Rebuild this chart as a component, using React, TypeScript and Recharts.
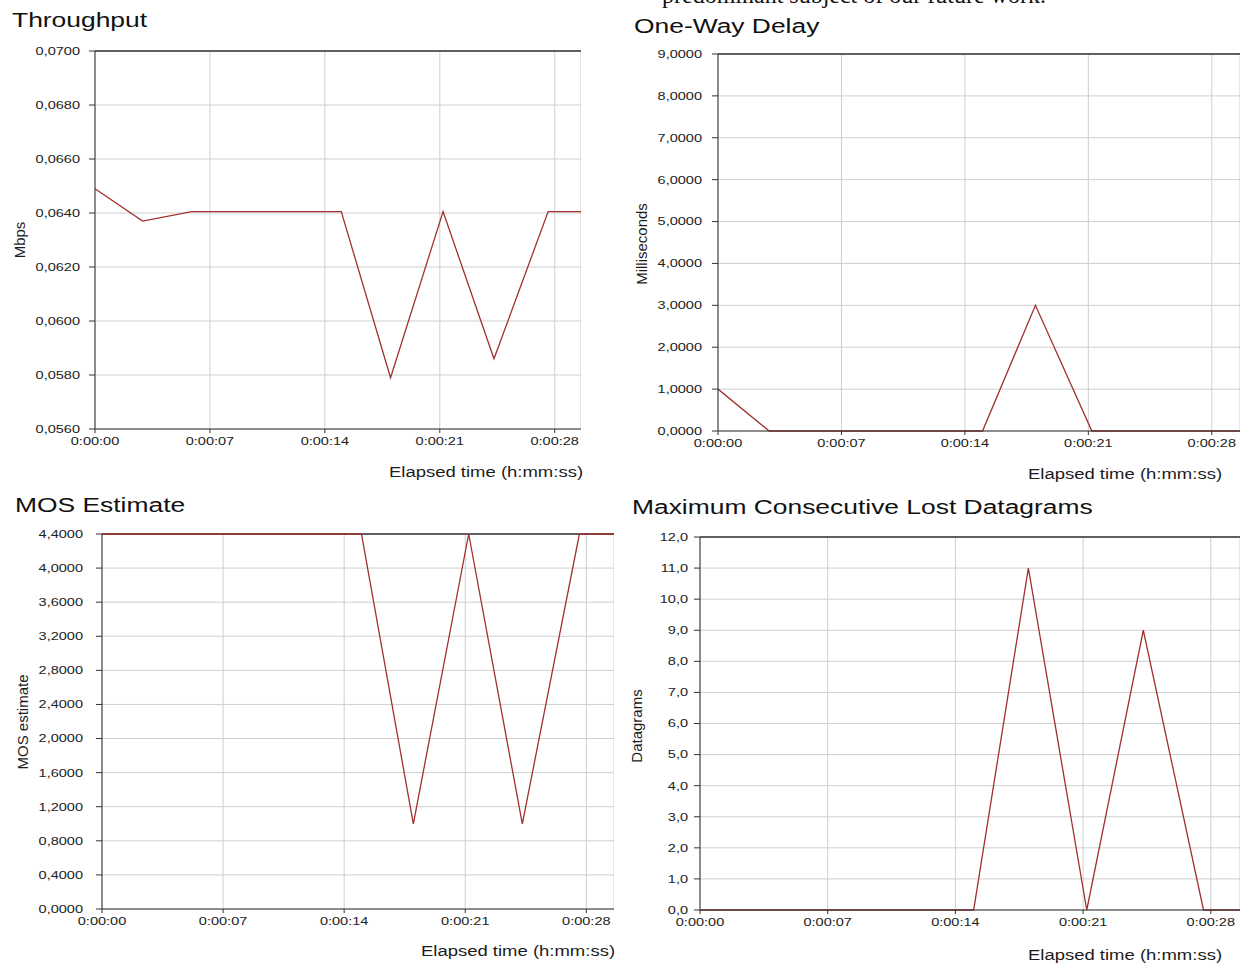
import React from "react";
import { LineChart, Line, XAxis, YAxis, CartesianGrid, ReferenceLine } from "recharts";

const FONT = '"Liberation Sans", Arial, sans-serif';
const STRETCH = 1.32;
const LINE = "#a0312f";
const GRID = "#cfcfcf";
const AXIS = "#333333";

// sample times (seconds)
const time = [0, 2.9, 5.9, 9, 12, 15, 18, 21.2, 24.3, 27.6, 30.6];
const timeTicks = [0, 7, 14, 21, 28];

const throughput = [0.0649, 0.0637, 0.06405, 0.06405, 0.06405, 0.06405, 0.0579, 0.06405, 0.0586, 0.06405, 0.06405];
const throughputTicks = [0.056, 0.058, 0.06, 0.062, 0.064, 0.066, 0.068, 0.07];

const delay = [1.0, 0, 0, 0, 0, 0, 3.0, 0, 0, 0, 0];
const delayTicks = [0, 1, 2, 3, 4, 5, 6, 7, 8, 9];

const mos = [4.4, 4.4, 4.4, 4.4, 4.4, 4.4, 1.0, 4.4, 1.0, 4.4, 4.4];
const mosTicks = [0, 0.4, 0.8, 1.2, 1.6, 2.0, 2.4, 2.8, 3.2, 3.6, 4.0, 4.4];

const lost = [0, 0, 0, 0, 0, 0, 11, 0, 9, 0, 0];
const lostTicks = [0, 1, 2, 3, 4, 5, 6, 7, 8, 9, 10, 11, 12];

const fmt4 = (v: number) => v.toFixed(4).replace(".", ",");
const fmt1 = (v: number) => v.toFixed(1).replace(".", ",");
const fmtTime = (t: number) => `0:00:${String(t).padStart(2, "0")}`;

function YTick(props: any) {
  const { x, y, payload, format } = props;
  return (
    <g transform={`translate(${x},${y})`}>
      <text
        transform={`scale(${STRETCH},1)`}
        textAnchor="end"
        dy="0.355em"
        fontSize={11}
        fill="#222"
        fontFamily={FONT}
      >
        {format(payload.value)}
      </text>
    </g>
  );
}

function XTick(props: any) {
  const { x, y, payload } = props;
  return (
    <g transform={`translate(${x},${y})`}>
      <text
        transform={`scale(${STRETCH},1)`}
        textAnchor="middle"
        dy="0.71em"
        fontSize={11}
        fill="#222"
        fontFamily={FONT}
      >
        {fmtTime(payload.value)}
      </text>
    </g>
  );
}

type PanelProps = {
  left: number;
  top: number;
  width: number;
  height: number;
  yWidth: number;
  yMargin: number;
  values: number[];
  ticks: number[];
  format: (v: number) => string;
};

function Panel({ left, top, width, height, yWidth, yMargin, values, ticks, format }: PanelProps) {
  const rows = time.map((t, i) => ({ t, v: values[i] }));
  const yMax = ticks[ticks.length - 1];
  return (
    <div style={{ position: "absolute", left, top }}>
      <LineChart width={width} height={height} data={rows} margin={{ top: 10, right: 0, bottom: 0, left: 0 }}>
        <CartesianGrid stroke={GRID} />
        <XAxis
          dataKey="t"
          type="number"
          domain={[0, 29.6]}
          ticks={timeTicks}
          allowDataOverflow
          height={30}
          tickSize={4}
          tickMargin={4}
          stroke={AXIS}
          tick={(p: any) => <XTick {...p} />}
        />
        <YAxis
          type="number"
          domain={[ticks[0], yMax]}
          ticks={ticks}
          width={yWidth}
          tickSize={6}
          tickMargin={yMargin}
          stroke={AXIS}
          interval={0}
          tick={(p: any) => <YTick {...p} format={format} />}
        />
        <ReferenceLine y={yMax} stroke={AXIS} strokeWidth={1.5} />
        <Line
          type="linear"
          dataKey="v"
          stroke={LINE}
          strokeWidth={1.3}
          dot={false}
          isAnimationActive={false}
        />
      </LineChart>
    </div>
  );
}

const titleStyle = (left: number, top: number): React.CSSProperties => ({
  position: "absolute",
  left,
  top,
  fontSize: 20,
  lineHeight: "20px",
  color: "#111",
  whiteSpace: "nowrap",
  transform: `scaleX(${STRETCH})`,
  transformOrigin: "left",
});

const elapsedStyle = (right: number, top: number): React.CSSProperties => ({
  position: "absolute",
  right: 1247 - right,
  top,
  fontSize: 14,
  lineHeight: "14px",
  color: "#1c1c1c",
  whiteSpace: "nowrap",
  transform: `scaleX(${STRETCH})`,
  transformOrigin: "right",
});

const yLabelStyle = (cx: number, cy: number): React.CSSProperties => ({
  position: "absolute",
  left: cx,
  top: cy,
  fontSize: 15,
  lineHeight: "15px",
  color: "#1c1c1c",
  whiteSpace: "nowrap",
  transform: "translate(-50%,-50%) rotate(-90deg)",
});

export default function App() {
  return (
    <div
      style={{
        position: "absolute",
        left: 0,
        top: 0,
        width: 1247,
        height: 965,
        overflow: "hidden",
        background: "#fff",
        fontFamily: FONT,
      }}
    >
      <div
        style={{
          position: "absolute",
          left: 662,
          top: -17,
          fontFamily: '"Liberation Serif", "Times New Roman", serif',
          fontSize: 24,
          lineHeight: "24px",
          whiteSpace: "nowrap",
          color: "#111",
        }}
      >
        predominant subject of our future work.
      </div>

      <div style={titleStyle(12, 10)}>Throughput</div>
      <div style={yLabelStyle(19, 240)}>Mbps</div>
      <Panel left={0} top={41} width={581} height={418} yWidth={95} yMargin={9}
        values={throughput} ticks={throughputTicks} format={fmt4} />
      <div style={elapsedStyle(583, 465)}>Elapsed time (h:mm:ss)</div>

      <div style={titleStyle(634, 16)}>One-Way Delay</div>
      <div style={yLabelStyle(641, 244)}>Milliseconds</div>
      <Panel left={620} top={44} width={620} height={417} yWidth={98} yMargin={10}
        values={delay} ticks={delayTicks} format={fmt4} />
      <div style={elapsedStyle(1222, 467)}>Elapsed time (h:mm:ss)</div>

      <div style={titleStyle(15, 495)}>MOS Estimate</div>
      <div style={yLabelStyle(22, 722)}>MOS estimate</div>
      <Panel left={0} top={524} width={614} height={415} yWidth={102} yMargin={13}
        values={mos} ticks={mosTicks} format={fmt4} />
      <div style={elapsedStyle(615, 944)}>Elapsed time (h:mm:ss)</div>

      <div style={titleStyle(632, 497)}>Maximum Consecutive Lost Datagrams</div>
      <div style={yLabelStyle(636, 726)}>Datagrams</div>
      <Panel left={620} top={527} width={620} height={413} yWidth={80} yMargin={6}
        values={lost} ticks={lostTicks} format={fmt1} />
      <div style={elapsedStyle(1222, 948)}>Elapsed time (h:mm:ss)</div>
    </div>
  );
}
